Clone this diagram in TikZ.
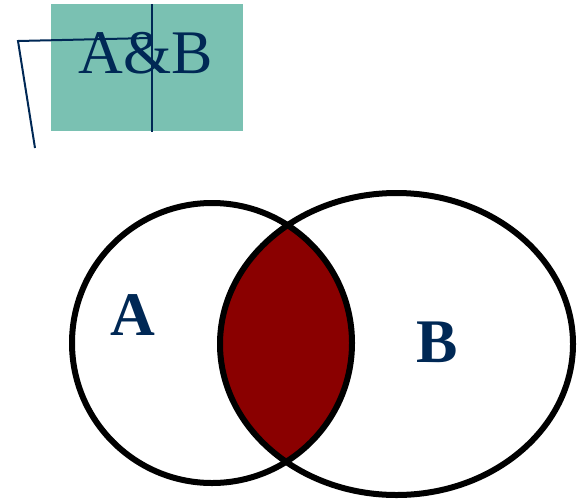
\documentclass[tikz,border=0pt]{standalone}
\usepackage{fontspec}
\setmainfont{Liberation Serif}
\definecolor{teal1}{RGB}{122,193,178}
\definecolor{navy1}{RGB}{0,40,85}
\definecolor{lens}{RGB}{138,0,0}
\tikzset{
  lbl/.style={inner sep=0pt, anchor=base, text=navy1, font=\fontsize{62}{62}\selectfont},
  setline/.style={draw=black, line width=6pt},
  thin/.style={draw=navy1, line width=2pt}
}
\begin{document}
\begin{tikzpicture}[x=1pt,y=-1pt]
\useasboundingbox (0,0) rectangle (577,501);
% title box
\fill[teal1] (51,4) rectangle (243,131);
\node[lbl] (title) at (146,73) {A\&B};
\coordinate (v1) at (152,4);
\coordinate (v2) at (152,132);
\coordinate (p1) at (150,38);
\coordinate (p2) at (18,41);
\coordinate (p3) at (35,148);
\draw[thin] (v1) -- (v2);
\draw[thin] (p1) -- (p2) -- (p3);
% venn
\coordinate (ca) at (212,343);
\coordinate (cb) at (396.5,344);
\begin{scope}
  \clip (ca) circle (140);
  \fill[lens] (cb) ellipse (176.5 and 151);
\end{scope}
\draw[setline] (ca) circle (140);
\draw[setline] (cb) ellipse (176.5 and 151);
\node[lbl, font=\fontsize{62}{62}\selectfont\bfseries] (a) at (133,335) {A};
\node[lbl, font=\fontsize{62}{62}\selectfont\bfseries] (b) at (437,362) {B};
\end{tikzpicture}
\end{document}
